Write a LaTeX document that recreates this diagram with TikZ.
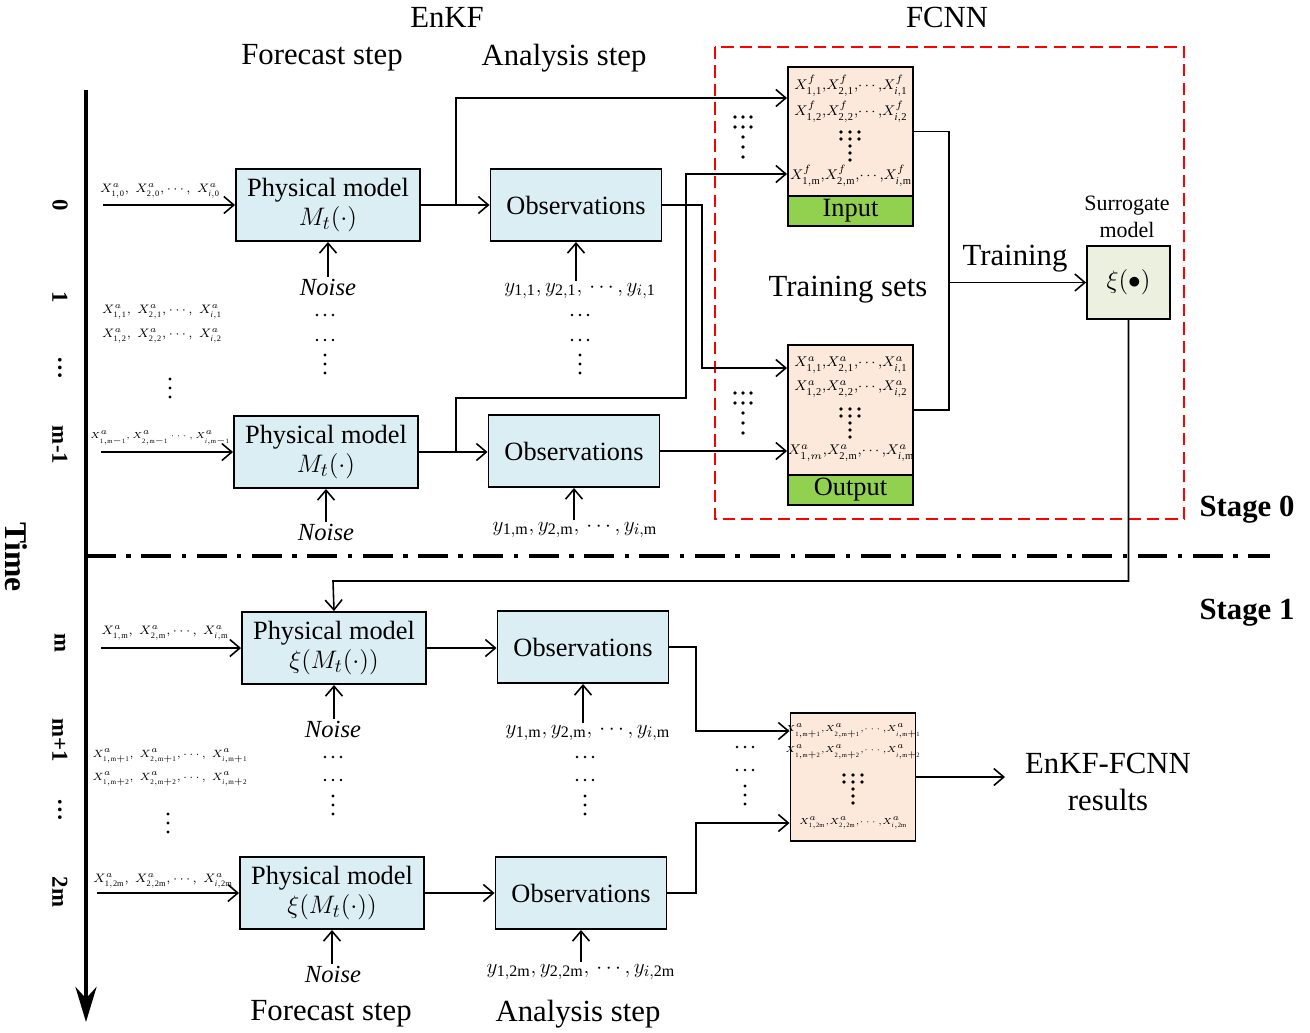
\documentclass[tikz,border=0pt]{standalone}
\usepackage{fontspec}
\setmainfont{Liberation Serif}
\usetikzlibrary{arrows.meta,positioning,calc}

\definecolor{boxblue}{HTML}{DAEEF3}
\definecolor{peach}{HTML}{FDE9DC}
\definecolor{ingreen}{HTML}{92D050}
\definecolor{surrgreen}{HTML}{EBF1DE}

\newcommand{\xa}[1]{X^{a}_{\mathrm{#1}}}
\newcommand{\xf}[1]{X^{f}_{\mathrm{#1}}}
\newcommand{\cm}{,\!}
% three short columns of dots, the middle one longer
\newcommand{\dotfan}[5]{%
  \foreach \c in {-1,0,1} {\foreach \r in {0,1} {\fill (#1+\c*#3,#2+\r*#4) circle (1.1pt);}}
  \foreach \r in {2,...,#5} {\fill (#1,#2+\r*#4) circle (1.1pt);}}
% ... and : drawn as dots
\newcommand{\hdotrow}[2]{\foreach \c in {-1,0,1} {\fill (#1+\c*8,#2) circle (0.8pt);}}
\newcommand{\vdotcol}[2]{\foreach \r in {-1,0,1} {\fill (#1,#2+\r*9) circle (0.9pt);}}

\begin{document}
\begin{tikzpicture}[x=0.02cm, y=-0.02cm,
    >={Straight Barb[length=2mm,width=3.4mm]},
    arr/.style={->, line width=0.9pt},
    line/.style={line width=0.9pt},
    head/.style={font=\fontsize{17.5}{20}\selectfont},
    mbox/.style={draw, line width=1.1pt, fill=boxblue, minimum width=3.68cm, minimum height=1.44cm,
      align=center, inner sep=1pt, font=\fontsize{15}{17}\selectfont},
    obox/.style={mbox, minimum width=3.42cm},
    fbox/.style={draw, line width=1.1pt, fill=peach, minimum width=2.5cm, inner sep=0pt},
    flab/.style={draw, line width=1.1pt, fill=ingreen, minimum width=2.5cm, minimum height=0.6cm,
      inner sep=0pt, font=\fontsize{15}{16}\selectfont},
    ftext/.style={font=\fontsize{8}{9}\selectfont, inner sep=0pt},
    rtext/.style={font=\fontsize{5.3}{6}\selectfont, inner sep=0pt},
    xtext/.style={font=\fontsize{6.8}{8}\selectfont, inner sep=1pt},
    stext/.style={font=\fontsize{5.8}{7}\selectfont, inner sep=1pt},
    ytext/.style={font=\fontsize{13}{15}\selectfont, inner sep=1pt},
    noise/.style={font=\fontsize{14}{16}\selectfont\itshape, inner sep=1pt},
    tick/.style={rotate=-90, font=\fontsize{13}{14}\selectfont\bfseries},
    stage/.style={font=\fontsize{17.5}{20}\selectfont\bfseries},
    ]
    \useasboundingbox (0,0) rectangle (1310,1032);

    % headings
    \node[head] (enkf) at (447,17) {EnKF};
    \node[head] (fcnn) at (947,17) {FCNN};
    \node[head] (fore0) at (322,58) {Forecast step};
    \node[head] (ana0) at (564,58) {Analysis step};
    \node[head] (fore1) at (331,1014) {Forecast step};
    \node[head] (ana1) at (578,1014) {Analysis step};

    % time axis
    \draw[line width=2.4pt, -{Stealth[length=7mm,width=4.2mm]}] (86,90) -- (86,1022);
    \node[rotate=-90, font=\fontsize{18}{20}\selectfont\bfseries] (time) at (16,557) {Time};
    \node[tick] (t0) at (60,205) {0};
    \node[tick] (t1) at (60,297) {1};
    \node[tick] (t2) at (60,368) {\dots};
    \node[tick] (t3) at (60,445) {m-1};
    \node[tick] (t4) at (60,643) {m};
    \node[tick] (t5) at (60,740) {m+1};
    \node[tick] (t6) at (60,810) {\dots};
    \node[tick] (t7) at (60,892) {2m};

    % stage split
    \draw[line width=1.8pt, dash pattern=on 17pt off 6pt on 2.5pt off 6pt] (86,556) -- (1270,556);
    \node[stage] (st0) at (1247,510) {Stage 0};
    \node[stage] (st1) at (1247,613) {Stage 1};
    \draw[red, line width=1.2pt, dash pattern=on 7pt off 3.5pt] (715,47) rectangle (1184,519);

    % stage 0 boxes
    \node[mbox] (pm0) at (328,205) {Physical model\\$M_t(\cdot)$};
    \node[obox] (obs0) at (576,205) {Observations};
    \node[mbox] (pm1) at (326,452) {Physical model\\$M_t(\cdot)$};
    \node[obox] (obs1) at (574,451) {Observations};

    % stage 1 boxes
    \node[mbox] (pm2) at (334,648) {Physical model\\$\xi(M_t(\cdot))$};
    \node[obox] (obs2) at (583,647) {Observations};
    \node[mbox] (pm3) at (332,893) {Physical model\\$\xi(M_t(\cdot))$};
    \node[obox] (obs3) at (581,893) {Observations};

    % FCNN sets
    \node[fbox, minimum height=2.58cm] (inbox) at (850.5,131.5) {};
    \node[flab] (inlab) at (850.5,211) {Input};
    \node[ftext] (in1) at (851,86) {$\xf{1,1}\cm\xf{2,1}\cm\cdots\cm\xf{\mathit{i},1}$};
    \node[ftext] (in2) at (851,112) {$\xf{1,2}\cm\xf{2,2}\cm\cdots\cm\xf{\mathit{i},2}$};
    \node[ftext] (in3) at (851,176) {$\xf{1,m}\cm\xf{2,m}\cm\cdots\cm\xf{\mathit{i},m}$};
    \dotfan{850}{132}{9}{7}{4}

    \node[fbox, minimum height=2.6cm] (outbox) at (850.5,410) {};
    \node[flab] (outlab) at (850.5,490) {Output};
    \node[ftext] (out1) at (851,365) {$\xa{1,1}\cm\xa{2,1}\cm\cdots\cm\xa{\mathit{i},1}$};
    \node[ftext] (out2) at (851,389) {$\xa{1,2}\cm\xa{2,2}\cm\cdots\cm\xa{\mathit{i},2}$};
    \node[ftext] (out3) at (851,453) {$X^{a}_{1,m}\cm\xa{2,m}\cm\cdots\cm\xa{\mathit{i},m}$};
    \dotfan{850}{409}{9}{7}{4}

    \node[fbox, minimum height=2.56cm] (resbox) at (853,777) {};
    \node[rtext] (res1) at (853,731) {$\xa{1,m+1}\cm\xa{2,m+1}\cm\cdots\cm\xa{\mathit{i},m+1}$};
    \node[rtext] (res2) at (853,752) {$\xa{1,m+2}\cm\xa{2,m+2}\cm\cdots\cm\xa{\mathit{i},m+2}$};
    \node[rtext] (res3) at (853,823) {$\xa{1,2m}\cm\xa{2,2m}\cm\cdots\cm\xa{\mathit{i},2m}$};
    \dotfan{853}{775}{9}{7}{4}

    \dotfan{743}{117}{8}{10}{4}
    \dotfan{743}{393}{8}{10}{4}
    \hdotrow{745}{747}
    \hdotrow{745}{770}
    \vdotcol{745}{795}

    \node[draw, line width=1.1pt, fill=surrgreen, minimum width=1.66cm, minimum height=1.46cm,
      font=\fontsize{15}{16}\selectfont] (surr) at (1128.5,282.5) {$\xi(\bullet)$};
    \node[align=center, font=\fontsize{12.5}{15}\selectfont] (surrlab) at (1127,217) {Surrogate\\model};
    \node[head] (tsets) at (848,290) {Training sets};
    \node[head] (train) at (1015,259) {Training};
    \node[head, align=center, font=\fontsize{17.5}{21.5}\selectfont] (result) at (1108,782) {EnKF-FCNN\\results};

    % states entering the model
    \coordinate (x0) at (103,205);
    \coordinate (x1) at (101,452);
    \coordinate (x2) at (101,648);
    \coordinate (x3) at (97,893);
    \node[xtext] (xl0) at (160,191) {$\xa{1,0},\;\xa{2,0},\cdots,\;\xa{\mathit{i},0}$};
    \node[xtext] (xl1) at (162,312) {$\xa{1,1},\;\xa{2,1},\cdots,\;\xa{\mathit{i},1}$};
    \node[xtext] (xl2) at (162,336) {$\xa{1,2},\;\xa{2,2},\cdots,\;\xa{\mathit{i},2}$};
    \vdotcol{170}{388}
    \node[stext, font=\fontsize{5.4}{6}\selectfont] (xl3) at (160,438) {$\xa{1,m-1},\xa{2,m-1}\cdots,\xa{\mathit{i},m-1}$};
    \node[xtext] (xl4) at (165,633) {$\xa{1,m},\;\xa{2,m},\cdots,\;\xa{\mathit{i},m}$};
    \node[stext] (xl5) at (170,756) {$\xa{1,m+1},\;\xa{2,m+1},\cdots,\;\xa{\mathit{i},m+1}$};
    \node[stext] (xl6) at (170,779) {$\xa{1,m+2},\;\xa{2,m+2},\cdots,\;\xa{\mathit{i},m+2}$};
    \vdotcol{168}{823}
    \node[xtext] (xl7) at (163,881) {$\xa{1,2m},\;\xa{2,2m},\cdots,\;\xa{\mathit{i},2m}$};

    % noise and observations below the boxes
    \node[noise] (n0) at (328,287) {Noise};
    \node[noise] (n1) at (326,532) {Noise};
    \node[noise] (n2) at (333,729) {Noise};
    \node[noise] (n3) at (333,974) {Noise};
    \node[ytext] (y0) at (580,291) {$y_{\mathrm{1,1}},y_{\mathrm{2,1}},\,\cdots,y_{i\mathrm{,1}}$};
    \node[ytext] (y1) at (575,530) {$y_{\mathrm{1,m}},y_{\mathrm{2,m}},\,\cdots,y_{i\mathrm{,m}}$};
    \node[ytext] (y2) at (588,733) {$y_{\mathrm{1,m}},y_{\mathrm{2,m}},\,\cdots,y_{i\mathrm{,m}}$};
    \node[ytext] (y3) at (581,972) {$y_{\mathrm{1,2m}},y_{\mathrm{2,2m}},\,\cdots,y_{i\mathrm{,2m}}$};
    \foreach \x in {325,580} {
      \hdotrow{\x}{315}
      \hdotrow{\x}{340}
      \vdotcol{\x}{364}
    }
    \foreach \x in {333,585} {
      \hdotrow{\x}{757}
      \hdotrow{\x}{780}
      \vdotcol{\x}{805}
    }

    % connectors
    \draw[arr] (x0) -- (pm0.west |- x0);
    \draw[arr] (x1) -- (pm1.west |- x1);
    \draw[arr] (x2) -- (pm2.west |- x2);
    \draw[arr] (x3) -- (pm3.west |- x3);
    \foreach \i in {0,1,2,3} {
      \draw[arr] (pm\i.south |- n\i.north) -- (pm\i.south);
      \draw[arr] (obs\i.south |- y\i.north) -- (obs\i.south);
      \draw[arr] (pm\i) -- (obs\i.west |- pm\i);
    }
    \draw[arr] (456,205) |- ([yshift=0.67cm]inbox.west);
    \draw[arr] (456,452) |- (686,398) |- ([yshift=-0.85cm]inbox.west);
    \draw[arr] (obs0.east) -- (702,205) |- ([yshift=0.84cm]outbox.west);
    \draw[arr] (obs1.east) -- (obs1.east -| outbox.west);
    \draw[line] (inbox.east) -- ++(35,0) coordinate (tr) |- (outbox.east);
    \draw[arr] (tr |- surr.west) -- (surr.west);
    \coordinate (fb) at (333,581);
    \draw[arr] (surr.south) |- (fb) -- (pm2.north);
    \draw[arr] (obs2.east) -- (696,647) |- ([yshift=0.92cm]resbox.west);
    \draw[arr] (obs3.east) -- (696,893) |- ([yshift=-0.92cm]resbox.west);
    \coordinate (resend) at (1005,777);
    \draw[arr] (resbox.east) -- (resend);
\end{tikzpicture}
\end{document}
